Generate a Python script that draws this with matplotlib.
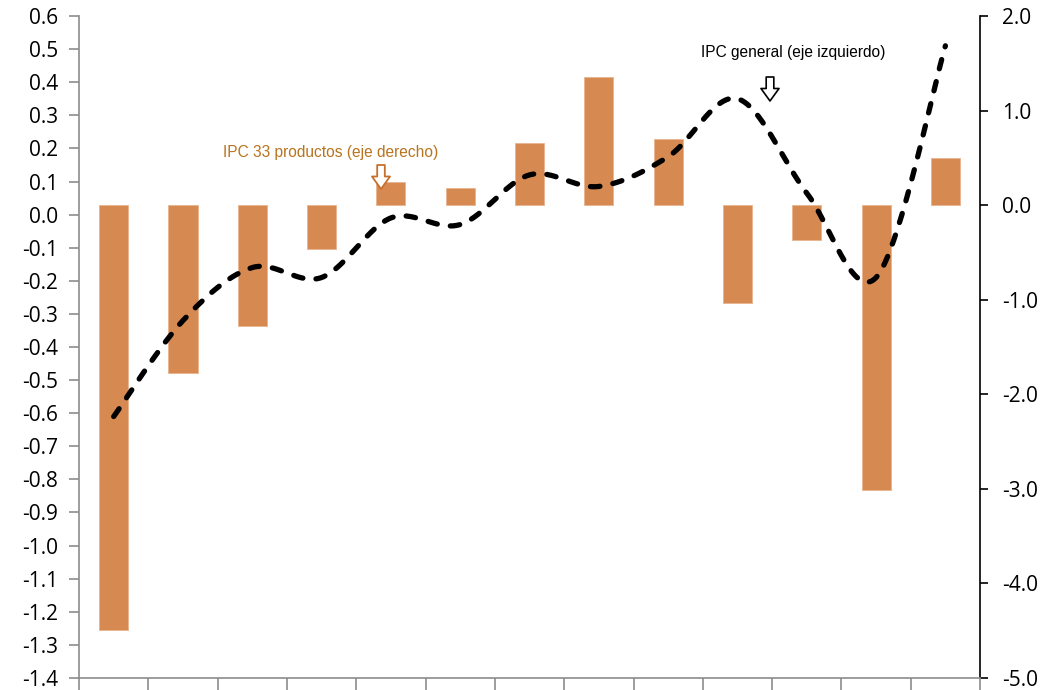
import numpy as np
import matplotlib
matplotlib.use("Agg")
import matplotlib.pyplot as plt

# Data
bar_values = [-4.49, -1.78, -1.28, -0.46, 0.25, 0.18, 0.66, 1.35, 0.70, -1.03, -0.37, -3.01, 0.50]  # IPC 33 productos (eje derecho)
line_values = [-0.61, -0.32, -0.16, -0.19, -0.01, -0.03, 0.12, 0.085, 0.175, 0.35, 0.065, -0.19, 0.51]  # IPC general (eje izquierdo)
left_ticks = [round(v, 1) for v in np.arange(-1.4, 0.61, 0.1)]
right_ticks = [-5.0, -4.0, -3.0, -2.0, -1.0, 0.0, 1.0, 2.0]

bar_color = "#D68A52"
text_orange = "#B8741E"

fig = plt.figure(figsize=(10.51, 6.90), dpi=100)
ax = fig.add_axes([0.0752, 0.0174, 0.8573, 0.9594])
ax2 = ax.twinx()

n = len(bar_values)
x = np.arange(n)

# Bars on the right axis
ax2.bar(x, bar_values, width=0.42, color=bar_color, edgecolor="#E8B48E", linewidth=0.6, zorder=1)
ax2.set_ylim(-5.0, 2.0)
ax2.set_yticks(right_ticks)
ax2.set_yticklabels([f"{v:.1f}" for v in right_ticks])

# Smoothed line on the left axis (Catmull-Rom style bezier through points)
def smooth(xs, ys, steps=40):
    P = np.column_stack([xs, ys]).astype(float)
    m = len(P)
    out = []
    for i in range(m - 1):
        p0 = P[i - 1] if i > 0 else P[i]
        p1 = P[i]
        p2 = P[i + 1]
        p3 = P[i + 2] if i + 2 < m else P[i + 1]
        c1 = p1 + (p2 - p0) / 6.0
        c2 = p2 - (p3 - p1) / 6.0
        t = np.linspace(0, 1, steps)[:, None]
        seg = ((1 - t) ** 3) * p1 + 3 * ((1 - t) ** 2) * t * c1 + 3 * (1 - t) * t ** 2 * c2 + t ** 3 * p2
        out.append(seg if i == 0 else seg[1:])
    return np.vstack(out)

ax.set_zorder(ax2.get_zorder() + 1)
ax.patch.set_visible(False)
curve = smooth(x, line_values)
ln, = ax.plot(curve[:, 0], curve[:, 1], color="black", linewidth=3.8,
              dash_capstyle="round", zorder=3)
ln.set_dashes((1.8, 2.5))
ax.set_ylim(-1.4, 0.6)
ax.set_yticks(left_ticks)
ax.set_yticklabels([f"{v:.1f}" for v in left_ticks])

ax.set_xlim(-0.5, n - 0.5)
ax.set_xticks(np.arange(-0.5, n, 1.0))
ax.set_xticklabels([])
ax2.set_xlim(-0.5, n - 0.5)

# Spines / ticks styling
for a in (ax, ax2):
    a.spines["top"].set_visible(False)
ax.spines["right"].set_visible(False)
ax.spines["left"].set_color("#8C8C8C")
ax.spines["bottom"].set_color("#8C8C8C")
ax.spines["left"].set_linewidth(1.2)
ax.spines["bottom"].set_linewidth(1.2)
ax2.spines["left"].set_visible(False)
ax2.spines["bottom"].set_visible(False)
ax2.spines["right"].set_color("black")
ax2.spines["right"].set_linewidth(1.2)

ax.tick_params(axis="y", direction="out", length=7, width=1.2, color="#8C8C8C",
               labelsize=15, labelcolor="black", pad=8)
ax.tick_params(axis="x", direction="out", length=14, width=1.2, color="#8C8C8C")
ax2.tick_params(axis="y", direction="out", length=6, width=1.2, color="black",
                labelsize=15, labelcolor="black", pad=10)
for lab in ax.get_yticklabels() + ax2.get_yticklabels():
    lab.set_fontfamily(["Open Sans", "DejaVu Sans"])

# Annotations
narrow = ["Liberation Sans Narrow", "Liberation Sans", "DejaVu Sans"]
fig.text(331 / 1051, 1 - 152 / 690, "IPC 33 productos (eje derecho)", color=text_orange,
         fontsize=11.2, family=narrow, ha="center", va="center")
fig.text(793 / 1051, 1 - 52 / 690, "IPC general (eje izquierdo)", color="black",
         fontsize=11.2, family=narrow, ha="center", va="center")

arrow_style = "simple,head_width=1.3,head_length=0.9,tail_width=0.55"
ax.annotate("", xy=(381 / 1051, 1 - 189 / 690), xycoords="figure fraction",
            xytext=(381 / 1051, 1 - 165 / 690), textcoords="figure fraction",
            arrowprops=dict(arrowstyle=arrow_style, fc="white", ec="#C8702A", lw=1.3,
                            shrinkA=0, shrinkB=0))
ax.annotate("", xy=(770 / 1051, 1 - 101 / 690), xycoords="figure fraction",
            xytext=(770 / 1051, 1 - 77 / 690), textcoords="figure fraction",
            arrowprops=dict(arrowstyle=arrow_style, fc="white", ec="black", lw=1.2,
                            shrinkA=0, shrinkB=0))

fig.savefig("out.png", dpi=100)
